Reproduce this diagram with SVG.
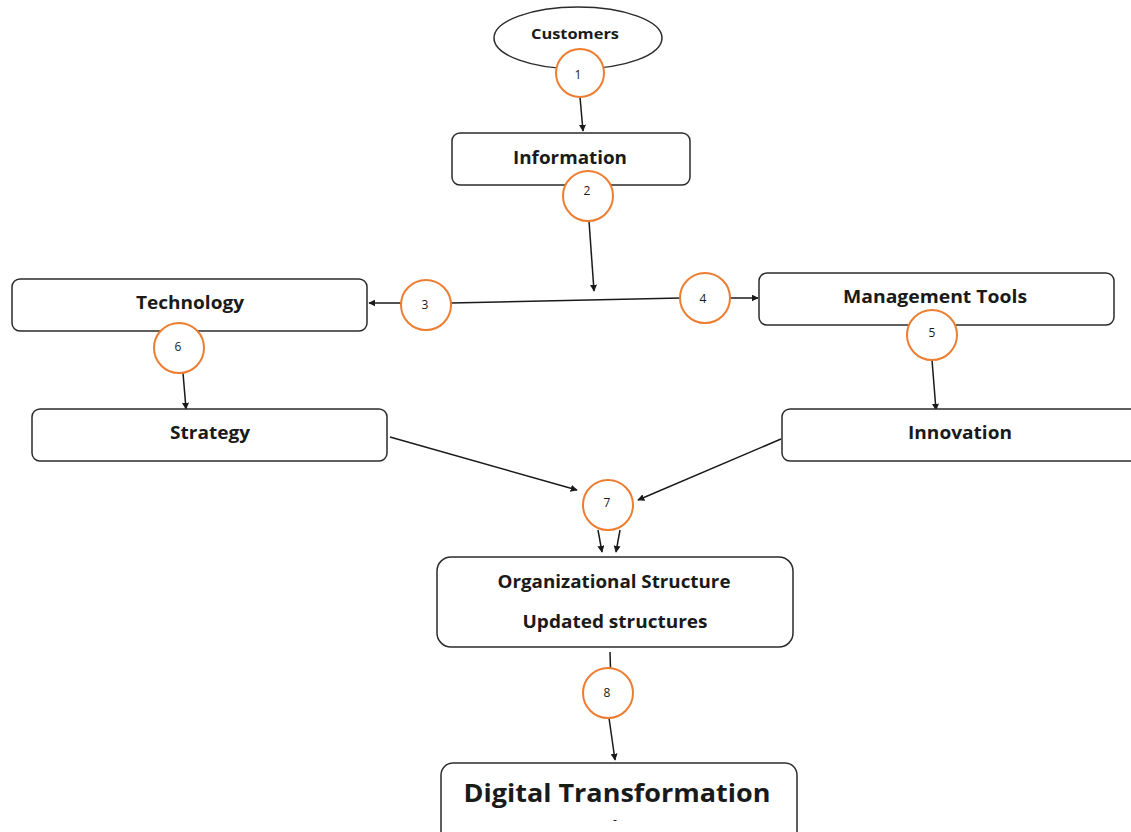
<svg xmlns="http://www.w3.org/2000/svg" width="1131" height="832" viewBox="0 0 1131 832">
  <style>
    .box { fill: #ffffff; stroke: #2b2b2b; stroke-width: 1.5; }
    .step { fill: #ffffff; stroke: #ED7D31; stroke-width: 2; }
    .label { font-family: "Open Sans", Lato, "Liberation Sans", sans-serif; font-weight: bold; fill: #1a1a1a; text-anchor: middle; dominant-baseline: central; }
    .num { font-family: "Open Sans", Lato, "Liberation Sans", sans-serif; font-size: 12px; fill: #1a1a1a; text-anchor: middle; dominant-baseline: central; }
    .edge { stroke: #1a1a1a; stroke-width: 1.5; fill: none; }
  </style>
  <defs>
    <marker id="arrow" viewBox="0 0 10 10" refX="9" refY="5" markerWidth="7" markerHeight="7" markerUnits="userSpaceOnUse" orient="auto">
      <path d="M0,0 L10,5 L0,10 z" fill="#1a1a1a"/>
    </marker>
  </defs>
  <rect width="1131" height="832" fill="#ffffff"/>

  <!-- connectors -->
  <g id="connectors">
    <line class="edge" x1="580" y1="97" x2="583" y2="131" marker-end="url(#arrow)"/>
    <line class="edge" x1="589" y1="221" x2="594" y2="291" marker-end="url(#arrow)"/>
    <line class="edge" x1="451" y1="303" x2="681" y2="298"/>
    <line class="edge" x1="401" y1="303" x2="369" y2="303" marker-end="url(#arrow)"/>
    <line class="edge" x1="730" y1="298" x2="758" y2="298" marker-end="url(#arrow)"/>
    <line class="edge" x1="932" y1="360" x2="936" y2="410" marker-end="url(#arrow)"/>
    <line class="edge" x1="183" y1="373" x2="186" y2="409" marker-end="url(#arrow)"/>
    <line class="edge" x1="390" y1="437" x2="577" y2="490" marker-end="url(#arrow)"/>
    <line class="edge" x1="781" y1="439" x2="638" y2="500" marker-end="url(#arrow)"/>
    <line class="edge" x1="598" y1="530" x2="602" y2="552" marker-end="url(#arrow)"/>
    <line class="edge" x1="620" y1="530" x2="616" y2="552" marker-end="url(#arrow)"/>
    <line class="edge" x1="610" y1="652" x2="610.5" y2="669"/>
    <line class="edge" x1="609" y1="718" x2="615" y2="760" marker-end="url(#arrow)"/>
  </g>

  <!-- nodes -->
  <g id="customers">
    <ellipse class="box" cx="578" cy="38" rx="84" ry="31"/>
    <text class="label" x="575" y="33" font-size="14" textLength="88" lengthAdjust="spacingAndGlyphs">Customers</text>
  </g>
  <g id="information">
    <rect class="box" x="452" y="133" width="238" height="52" rx="8"/>
    <text class="label" x="570" y="157" font-size="17" textLength="114" lengthAdjust="spacingAndGlyphs">Information</text>
  </g>
  <g id="technology">
    <rect class="box" x="12" y="279" width="355" height="52" rx="8"/>
    <text class="label" x="190" y="302" font-size="17" textLength="108" lengthAdjust="spacingAndGlyphs">Technology</text>
  </g>
  <g id="management-tools">
    <rect class="box" x="759" y="273" width="355" height="52" rx="8"/>
    <text class="label" x="935" y="296" font-size="17" textLength="184" lengthAdjust="spacingAndGlyphs">Management Tools</text>
  </g>
  <g id="strategy">
    <rect class="box" x="32" y="409" width="355" height="52" rx="8"/>
    <text class="label" x="210" y="432" font-size="17" textLength="80" lengthAdjust="spacingAndGlyphs">Strategy</text>
  </g>
  <g id="innovation">
    <rect class="box" x="782" y="409" width="360" height="52" rx="8"/>
    <text class="label" x="960" y="432" font-size="17" textLength="104" lengthAdjust="spacingAndGlyphs">Innovation</text>
  </g>
  <g id="organizational-structure">
    <rect class="box" x="437" y="557" width="356" height="90" rx="14"/>
    <text class="label" x="614" y="581" font-size="17" textLength="233" lengthAdjust="spacingAndGlyphs">Organizational Structure</text>
    <text class="label" x="615" y="621" font-size="17" textLength="185" lengthAdjust="spacingAndGlyphs">Updated structures</text>
  </g>
  <g id="digital-transformation">
    <rect class="box" x="441" y="763" width="356" height="80" rx="12"/>
    <text class="label" x="617" y="792" font-size="25" textLength="307" lengthAdjust="spacingAndGlyphs">Digital Transformation</text>
    <text class="num" x="615" y="819" font-size="14">-</text>
  </g>

  <!-- numbered steps -->
  <g id="step-1"><circle class="step" cx="580" cy="73" r="24"/><text class="num" x="578" y="74">1</text></g>
  <g id="step-2"><circle class="step" cx="588" cy="196" r="25"/><text class="num" x="587" y="190">2</text></g>
  <g id="step-3"><circle class="step" cx="426" cy="305" r="25"/><text class="num" x="425" y="304">3</text></g>
  <g id="step-4"><circle class="step" cx="705" cy="298" r="25"/><text class="num" x="703" y="298">4</text></g>
  <g id="step-5"><circle class="step" cx="932" cy="335" r="25"/><text class="num" x="932" y="332">5</text></g>
  <g id="step-6"><circle class="step" cx="179" cy="348" r="25"/><text class="num" x="178" y="346">6</text></g>
  <g id="step-7"><circle class="step" cx="608" cy="505" r="25"/><text class="num" x="607" y="502">7</text></g>
  <g id="step-8"><circle class="step" cx="608" cy="693" r="25"/><text class="num" x="607" y="692">8</text></g>
</svg>
